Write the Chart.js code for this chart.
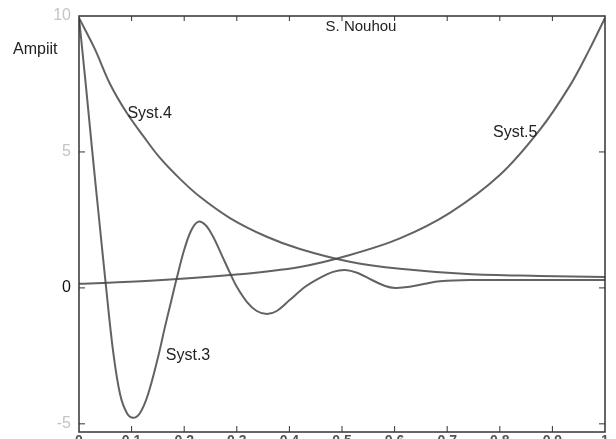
<!DOCTYPE html>
<html>
<head>
<meta charset="utf-8">
<script src="https://cdn.jsdelivr.net/npm/chart.js@4.4.1/dist/chart.umd.min.js"></script>
<style>
  html, body { margin: 0; padding: 0; background: #fff; overflow: hidden; }
  #wrap { width: 616px; height: 439px; overflow: hidden; }
</style>
</head>
<body>
<div id="wrap"><canvas id="chart" width="616" height="460"></canvas></div>
<script>
// x positions (time, 0..1) and amplitudes
const syst3X = [0, 0.013, 0.025, 0.038, 0.051, 0.065, 0.078, 0.091, 0.103, 0.116, 0.131, 0.15, 0.163, 0.175, 0.186, 0.2, 0.213, 0.226, 0.24, 0.255, 0.272, 0.287, 0.3, 0.319, 0.338, 0.357, 0.376, 0.401, 0.43, 0.458, 0.483, 0.506, 0.53, 0.557, 0.582, 0.601, 0.629, 0.658, 0.686, 0.743, 0.876, 1];
const syst3Y = [9.93, 7.46, 5.07, 2.57, 0.11, -2.35, -3.9, -4.6, -4.78, -4.6, -3.93, -2.57, -1.47, -0.51, 0.37, 1.4, 2.1, 2.43, 2.32, 1.88, 1.18, 0.55, 0.04, -0.51, -0.85, -0.96, -0.85, -0.44, 0.04, 0.37, 0.59, 0.66, 0.55, 0.29, 0.07, 0, 0.04, 0.15, 0.24, 0.29, 0.29, 0.29];

const syst4X = [0, 0.03, 0.059, 0.091, 0.122, 0.154, 0.192, 0.23, 0.287, 0.357, 0.42, 0.515, 0.61, 0.738, 0.876, 1];
const syst4Y = [9.93, 8.79, 7.5, 6.43, 5.59, 4.78, 4.01, 3.35, 2.57, 1.88, 1.43, 0.96, 0.7, 0.51, 0.44, 0.4];

const syst5X = [0, 0.135, 0.293, 0.42, 0.515, 0.61, 0.705, 0.8, 0.876, 0.933, 0.971, 1];
const syst5Y = [0.15, 0.26, 0.48, 0.77, 1.21, 1.82, 2.76, 4.15, 5.81, 7.43, 8.79, 9.93];

const xTicks = [0, 0.1, 0.2, 0.3, 0.4, 0.5, 0.6, 0.7, 0.8, 0.9, 1];
const yTicks = [-5, 0, 5, 10];

const curveLabels = [
    { text: "Syst.3", x: 0.165, y: -2.5 },
    { text: "Syst.4", x: 0.092, y: 6.4 },
    { text: "Syst.5", x: 0.787, y: 5.7 },
];

function toPoints(xs, ys) {
    return xs.map((x, i) => ({ x: x, y: ys[i] }));
}

const lineStyle = {
    borderColor: "rgba(70, 70, 70, 0.85)",
    borderWidth: 2,
    pointRadius: 0,
    fill: false,
    tension: 0.35,
};

// frame, inward ticks and free texts
const decorations = {
    id: "decorations",
    afterDraw(chart) {
        const ctx = chart.ctx;
        const area = chart.chartArea;
        const xs = chart.scales.x;
        const ys = chart.scales.y;
        ctx.save();
        ctx.strokeStyle = "#333";
        ctx.lineWidth = 1.5;
        ctx.strokeRect(area.left, area.top, area.right - area.left, area.bottom - area.top);

        ctx.lineWidth = 1;
        xTicks.slice(1, -1).forEach((v) => {
            const px = xs.getPixelForValue(v);
            ctx.beginPath();
            ctx.moveTo(px, area.bottom);
            ctx.lineTo(px, area.bottom - 6);
            ctx.moveTo(px, area.top);
            ctx.lineTo(px, area.top + 5);
            ctx.stroke();
        });
        yTicks.forEach((v) => {
            const py = ys.getPixelForValue(v);
            if (py <= area.top + 1 || py >= area.bottom - 1) return;
            ctx.beginPath();
            ctx.moveTo(area.left, py);
            ctx.lineTo(area.left + 6, py);
            ctx.moveTo(area.right, py);
            ctx.lineTo(area.right - 6, py);
            ctx.stroke();
        });

        ctx.fillStyle = "#222";
        ctx.textBaseline = "middle";
        ctx.textAlign = "left";
        ctx.font = "16px 'Liberation Sans', Arial, sans-serif";
        ctx.fillText("Ampiit", 13, 50);
        curveLabels.forEach((l) => {
            ctx.fillText(l.text, xs.getPixelForValue(l.x), ys.getPixelForValue(l.y));
        });
        ctx.font = "15px 'Liberation Sans', Arial, sans-serif";
        ctx.textAlign = "center";
        ctx.fillText("S. Nouhou", 361, 27);
        ctx.restore();
    },
};

new Chart(document.getElementById("chart"), {
    type: "line",
    data: {
        datasets: [
            { label: "Syst.3", data: toPoints(syst3X, syst3Y), ...lineStyle },
            { label: "Syst.4", data: toPoints(syst4X, syst4Y), ...lineStyle },
            { label: "Syst.5", data: toPoints(syst5X, syst5Y), ...lineStyle },
        ],
    },
    options: {
        responsive: false,
        animation: false,
        layout: { padding: { top: 16, right: 11, left: 0, bottom: 0 } },
        plugins: {
            legend: { display: false },
            tooltip: { enabled: false },
        },
        scales: {
            x: {
                type: "linear",
                min: 0,
                max: 1,
                grid: { display: false },
                border: { display: false },
                afterFit: (scale) => { scale.height = 28; },
                ticks: {
                    stepSize: 0.1,
                    padding: -7,
                    color: "#555",
                    font: { family: "'Liberation Sans', Arial", size: 14, weight: "bold" },
                    callback: (v) => (v === 0 || v === 1 ? String(v) : v.toFixed(1)),
                },
            },
            y: {
                min: -5.3,
                max: 10,
                grid: { display: false },
                border: { display: false },
                afterFit: (scale) => { scale.width = 79; },
                afterBuildTicks: (scale) => {
                    scale.ticks = yTicks.map((v) => ({ value: v }));
                },
                ticks: {
                    padding: 0,
                    color: (c) => (c.tick && c.tick.value === 0 ? "#111" : "#c4c4c4"),
                    font: { family: "'Liberation Sans', Arial", size: 16 },
                },
            },
        },
    },
    plugins: [decorations],
});
</script>
</body>
</html>
